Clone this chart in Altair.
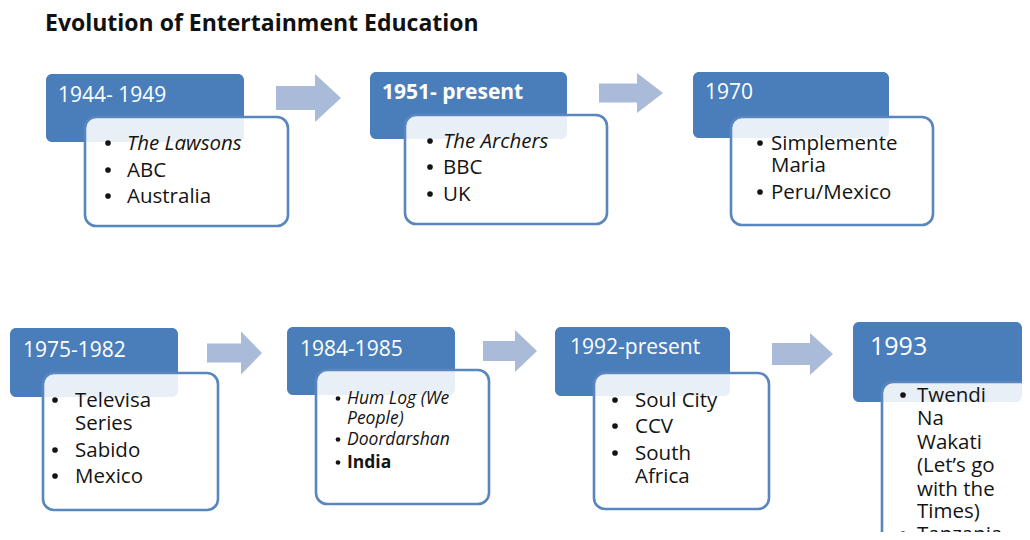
import altair as alt
import pandas as pd

# ---- plot-area coordinate frame (page pixels) ----
X_DOMAIN = [8, 1022]
Y_DOMAIN = [8, 532]

# ---- header boxes (blue) ----
header_labels = ["1944- 1949", "1951- present", "1970", "1975-1982", "1984-1985", "1992-present", "1993"]
header_x1 = [46, 370, 693, 10, 287, 555, 853]
header_x2 = [244, 567, 889, 178, 455, 730, 1022]
header_y1 = [74, 72, 72, 328, 327, 327, 322]
header_y2 = [142, 139, 138, 397, 395, 396, 402]

# ---- detail panels (white, outlined) ----
panel_x1 = [85, 405, 731, 43, 316, 594, 882]
panel_x2 = [288, 607, 933, 218, 489, 769, 1045]
panel_y1 = [117, 115, 117, 373, 370, 373, 382]
panel_y2 = [226, 224, 225, 510, 504, 509, 570]

# ---- arrows ----
arrow_x0 = [276, 599, 207, 483, 772]
arrow_neck = [315, 637, 241, 515, 810]
arrow_tip = [341, 663, 262, 537, 833]
arrow_yc = [98, 93, 353, 351, 354]
arrow_body = [24, 19, 19, 20, 22]
arrow_head = [48, 40, 43, 42, 42]

# ---- texts ----
title_text = "Evolution of Entertainment Education"
header_text_x = [58, 382, 705, 23, 300, 570, 870]
header_text_y = [102, 99, 99, 357, 356, 354, 355]
header_style = ["head", "headbold", "head", "head", "head", "head", "headbig"]

bullet_items = [
    # (box, text, style, baseline_y, has_bullet)
    (0, "The Lawsons", "it", 150, True),
    (0, "ABC", "reg", 177, True),
    (0, "Australia", "reg", 203, True),
    (1, "The Archers", "it", 148, True),
    (1, "BBC", "reg", 174, True),
    (1, "UK", "reg", 201, True),
    (2, "Simplemente", "reg", 150, True),
    (2, "Maria", "reg", 172, False),
    (2, "Peru/Mexico", "reg", 199, True),
    (3, "Televisa", "reg2", 407, True),
    (3, "Series", "reg2", 430, False),
    (3, "Sabido", "reg2", 457, True),
    (3, "Mexico", "reg2", 483, True),
    (4, "Hum Log (We", "smallit", 404, True),
    (4, "People)", "smallit", 424, False),
    (4, "Doordarshan", "smallit", 445, True),
    (4, "India", "smallbold", 468, True),
    (5, "Soul City", "reg2", 407, True),
    (5, "CCV", "reg2", 433, True),
    (5, "South", "reg2", 460, True),
    (5, "Africa", "reg2", 483, False),
    (6, "Twendi", "reg2", 402, True),
    (6, "Na", "reg2", 425, False),
    (6, "Wakati", "reg2", 449, False),
    (6, "(Let\u2019s go", "reg2", 472, False),
    (6, "with the", "reg2", 496, False),
    (6, "Times)", "reg2", 518, False),
    (6, "Tanzania", "reg2", 541, True),
]
bullet_x = [108, 430, 760, 55, 338, 615, 903]
item_text_x = [127, 443, 771, 75, 347, 635, 917]

BLUE = "#4a7ebb"
EDGE = "#5a86be"
ARROW = "#a9bbd8"
INK = "#141414"
FONT = "Open Sans"

styles = {
    "title": dict(fontSize=23, fontWeight="bold", color="#111111", clip=False),
    "head": dict(fontSize=21, fontWeight=500, color="white", clip=False),
    "headbold": dict(fontSize=21, fontWeight="bold", color="white", clip=False),
    "headbig": dict(fontSize=25, fontWeight=500, color="white", clip=False),
    "reg": dict(fontSize=20.5, color=INK, clip=False),
    "reg2": dict(fontSize=20.5, color=INK, clip=True),
    "it": dict(fontSize=20.5, fontStyle="italic", color=INK, clip=False),
    "smallit": dict(fontSize=17.5, fontStyle="italic", color=INK, clip=False),
    "smallbold": dict(fontSize=17.5, fontWeight="bold", color=INK, clip=False),
}

# ---- tables ----
headers = pd.DataFrame({"x": header_x1, "x2": header_x2, "y": header_y1, "y2": header_y2})
panels = pd.DataFrame({"x": panel_x1, "x2": panel_x2, "y": panel_y1, "y2": panel_y2})
bodies = pd.DataFrame({
    "x": arrow_x0, "x2": arrow_neck,
    "y": [c - b / 2 for c, b in zip(arrow_yc, arrow_body)],
    "y2": [c + b / 2 for c, b in zip(arrow_yc, arrow_body)],
})
head_rows = []
for i in range(len(arrow_x0)):
    head_rows.append({"id": i, "x": arrow_neck[i], "y": arrow_yc[i] - arrow_head[i] / 2, "y2": arrow_yc[i] + arrow_head[i] / 2})
    head_rows.append({"id": i, "x": arrow_tip[i], "y": arrow_yc[i], "y2": arrow_yc[i]})
heads = pd.DataFrame(head_rows)

text_rows = [{"x": 45, "y": 31, "t": title_text, "s": "title"}]
for i, lab in enumerate(header_labels):
    text_rows.append({"x": header_text_x[i], "y": header_text_y[i], "t": lab, "s": header_style[i]})
dot_rows = []
for box, txt, st, ly, has_dot in bullet_items:
    text_rows.append({"x": item_text_x[box], "y": ly, "t": txt, "s": st})
    if has_dot:
        small = st.startswith("small")
        dot_rows.append({"x": bullet_x[box], "y": ly - (5.5 if small else 7), "sz": 22 if small else 32})
texts = pd.DataFrame(text_rows)
dots = pd.DataFrame(dot_rows)

xs = alt.Scale(domain=X_DOMAIN, nice=False, zero=False)
ys = alt.Scale(domain=Y_DOMAIN, nice=False, zero=False, reverse=True)


def X(f="x"):
    return alt.X(f"{f}:Q", scale=xs, axis=None)


def Y(f="y"):
    return alt.Y(f"{f}:Q", scale=ys, axis=None)


header_layer = alt.Chart(headers).mark_rect(cornerRadius=6, color=BLUE, clip=True).encode(
    x=X(), x2="x2:Q", y=Y(), y2="y2:Q")
panel_layer = alt.Chart(panels).mark_rect(
    cornerRadius=11, fill="white", fillOpacity=0.88, stroke=EDGE, strokeWidth=2.6, clip=True
).encode(x=X(), x2="x2:Q", y=Y(), y2="y2:Q")
body_layer = alt.Chart(bodies).mark_rect(color=ARROW).encode(x=X(), x2="x2:Q", y=Y(), y2="y2:Q")
head_layer = alt.Chart(heads).mark_area(color=ARROW, orient="vertical").encode(
    x=X(), y=Y(), y2="y2:Q", detail="id:N")
dot_layer = alt.Chart(dots).mark_circle(color=INK, opacity=1, clip=True).encode(
    x=X(), y=Y(), size=alt.Size("sz:Q", scale=None, legend=None))

text_layers = []
for name, st in styles.items():
    text_layers.append(
        alt.Chart(texts).transform_filter(alt.datum.s == name).mark_text(
            align="left", baseline="alphabetic", font=FONT, **st
        ).encode(x=X(), y=Y(), text="t:N")
    )

chart = alt.layer(
    body_layer, head_layer, header_layer, panel_layer, dot_layer, *text_layers
).properties(width=1014, height=524, padding=0).configure_view(strokeWidth=0)

chart.save("out.html", embed_options={"renderer": "svg", "actions": False})
